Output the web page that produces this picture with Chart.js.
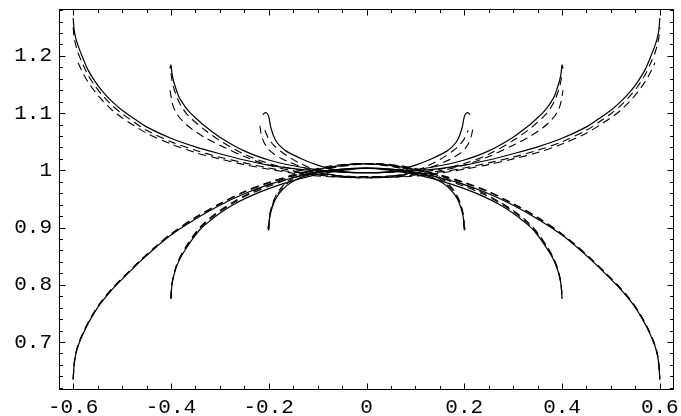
<!DOCTYPE html>
<html>
<head>
<meta charset="utf-8">
<script src="https://cdn.jsdelivr.net/npm/chart.js@4/dist/chart.umd.min.js"></script>
<style>
  body { margin: 0; background: #fff; }
  #wrap { width: 681px; height: 416px; }
</style>
</head>
<body>
<div id="wrap"><canvas id="curvesChart" width="681" height="416"></canvas></div>
<script>
// left halves (x <= 0), the right halves are mirrored

//! outer pair, ends at +-0.6
const xUpper6 = [-0.6, -0.598, -0.595, -0.59, -0.58, -0.57, -0.555, -0.54, -0.52, -0.5, -0.475, -0.45, -0.4, -0.35, -0.3, -0.25, -0.2, -0.15, -0.1, -0.05, 0];
const yUpper6 = [1.266, 1.245, 1.232, 1.218, 1.196, 1.176, 1.155, 1.138, 1.12, 1.105, 1.09, 1.076, 1.056, 1.041, 1.029, 1.018, 1.009, 1.003, 0.999, 0.997, 0.996];
const yUpper6DashA = [1.25, 1.232, 1.22, 1.205, 1.185, 1.167, 1.147, 1.131, 1.113, 1.099, 1.084, 1.07, 1.05, 1.035, 1.023, 1.013, 1.004, 0.997, 0.993, 0.99, 0.989];
const yUpper6DashB = [null, null, null, 1.188, 1.17, 1.155, 1.137, 1.122, 1.105, 1.092, 1.078, 1.065, 1.046, 1.031, 1.02, 1.01, 1.002, 0.995, 0.99, 0.988, 0.987];

const xLower6 = [-0.6, -0.598, -0.595, -0.59, -0.58, -0.565, -0.545, -0.52, -0.49, -0.46, -0.43, -0.4, -0.35, -0.3, -0.25, -0.2, -0.15, -0.1, -0.05, 0];
const yLower6 = [0.634, 0.66, 0.677, 0.693, 0.714, 0.739, 0.766, 0.792, 0.818, 0.843, 0.866, 0.887, 0.915, 0.939, 0.959, 0.975, 0.987, 0.996, 1.002, 1.004];
const yLower6DashA = [0.636, 0.662, 0.679, 0.695, 0.716, 0.741, 0.768, 0.794, 0.82, 0.845, 0.868, 0.889, 0.918, 0.942, 0.963, 0.979, 0.992, 1.001, 1.008, 1.011];
const yLower6DashB = [0.635, 0.661, 0.678, 0.694, 0.715, 0.74, 0.767, 0.793, 0.819, 0.844, 0.867, 0.888, 0.917, 0.941, 0.962, 0.978, 0.991, 1.002, 1.009, 1.012];

//! middle pair, ends at +-0.4
const xUpper4 = [-0.402, -0.4, -0.398, -0.395, -0.39, -0.385, -0.378, -0.37, -0.36, -0.35, -0.33, -0.3, -0.25, -0.2, -0.15, -0.1, -0.05, 0];
const yUpper4 = [1.178, 1.184, 1.17, 1.157, 1.143, 1.131, 1.12, 1.11, 1.1, 1.092, 1.077, 1.058, 1.034, 1.018, 1.008, 1.001, 0.997, 0.996];
const yUpper4DashA = [null, 1.17, 1.158, 1.146, 1.133, 1.122, 1.111, 1.101, 1.092, 1.084, 1.07, 1.052, 1.028, 1.012, 1.002, 0.995, 0.99, 0.989];
const yUpper4DashB = [1.14, 1.13, 1.12, 1.111, 1.102, 1.095, 1.088, 1.081, 1.074, 1.068, 1.057, 1.044, 1.024, 1.009, 0.999, 0.992, 0.988, 0.987];

const xLower4 = [-0.4, -0.399, -0.397, -0.393, -0.388, -0.38, -0.37, -0.355, -0.34, -0.32, -0.3, -0.27, -0.24, -0.2, -0.15, -0.1, -0.05, 0];
const yLower4 = [0.775, 0.79, 0.805, 0.82, 0.833, 0.848, 0.862, 0.881, 0.897, 0.912, 0.925, 0.941, 0.954, 0.968, 0.982, 0.993, 1.0, 1.004];
const yLower4DashA = [0.776, 0.791, 0.806, 0.821, 0.834, 0.85, 0.864, 0.883, 0.899, 0.915, 0.928, 0.944, 0.958, 0.972, 0.987, 0.998, 1.007, 1.011];
const yLower4DashB = [0.777, 0.792, 0.807, 0.822, 0.836, 0.851, 0.866, 0.885, 0.901, 0.917, 0.93, 0.946, 0.96, 0.975, 0.99, 1.001, 1.009, 1.012];

//! inner pair, ends at +-0.2
const xUpper2 = [-0.212, -0.207, -0.202, -0.199, -0.197, -0.194, -0.19, -0.184, -0.175, -0.165, -0.15, -0.13, -0.1, -0.07, -0.04, 0];
const yUpper2 = [1.097, 1.101, 1.098, 1.09, 1.08, 1.07, 1.06, 1.05, 1.041, 1.034, 1.027, 1.019, 1.009, 1.001, 0.997, 0.996];
const xUpper2Dash = [-0.218, -0.216, -0.213, -0.208, -0.2, -0.19, -0.175, -0.16, -0.14, -0.12, -0.1, -0.07, -0.04, 0];
const yUpper2DashA = [1.078, 1.066, 1.056, 1.046, 1.036, 1.029, 1.021, 1.015, 1.008, 1.002, 0.997, 0.992, 0.989, 0.988];
const yUpper2DashB = [null, null, null, 1.07, 1.055, 1.044, 1.033, 1.024, 1.014, 1.006, 0.999, 0.992, 0.988, 0.987];

const xLower2 = [-0.202, -0.2, -0.199, -0.197, -0.193, -0.187, -0.178, -0.165, -0.15, -0.13, -0.1, -0.07, -0.035, 0];
const yLower2 = [0.9, 0.896, 0.91, 0.922, 0.935, 0.948, 0.96, 0.972, 0.981, 0.989, 0.996, 1.0, 1.003, 1.004];
const yLower2DashA = [0.902, 0.898, 0.912, 0.925, 0.938, 0.951, 0.963, 0.975, 0.985, 0.993, 1.001, 1.006, 1.01, 1.011];
const yLower2DashB = [null, 0.9, 0.914, 0.927, 0.94, 0.953, 0.966, 0.978, 0.988, 0.996, 1.003, 1.008, 1.011, 1.012];

//! axis ticks
const xMajorTicks = [-0.6, -0.4, -0.2, 0, 0.2, 0.4, 0.6];
const yMajorTicks = [0.7, 0.8, 0.9, 1, 1.1, 1.2];

// left half + mirrored right half
function mirrored(xs, ys) {
  const pts = xs.map((x, i) => ({ x: x, y: ys[i] }));
  const right = [];
  for (let i = xs.length - 1; i >= 0; i--) {
    if (xs[i] === 0) continue;
    right.push({ x: -xs[i], y: ys[i] });
  }
  return pts.concat(right);
}

function curve(xs, ys, dashed) {
  return {
    data: mirrored(xs, ys),
    showLine: true,
    borderColor: "#000",
    borderWidth: dashed ? 1.1 : 1.2,
    borderDash: dashed ? [8, 5] : [],
    pointRadius: 0,
    tension: 0.3,
    spanGaps: false,
  };
}

const framePlugin = {
  id: "frame",
  afterDraw(chart) {
    const { ctx, chartArea } = chart;
    const xs = chart.scales.x;
    const ys = chart.scales.y;
    const l = Math.round(chartArea.left) + 0.5;
    const r = Math.round(chartArea.right) - 0.5;
    const t = Math.round(chartArea.top) + 0.5;
    const b = Math.round(chartArea.bottom) - 0.5;
    ctx.save();
    ctx.strokeStyle = "#000";
    ctx.lineWidth = 1;
    ctx.setLineDash([]);
    ctx.strokeRect(l, t, r - l, b - t);
    ctx.beginPath();
    // x ticks every 0.05, long at every 0.2
    for (let k = -12; k <= 12; k++) {
      const v = k * 0.05;
      const px = Math.round(xs.getPixelForValue(v)) + 0.5;
      const len = k % 4 === 0 ? 6 : 3.5;
      ctx.moveTo(px, b); ctx.lineTo(px, b - len);
      ctx.moveTo(px, t); ctx.lineTo(px, t + len);
    }
    // y ticks every 0.02, long at every 0.1
    for (let k = 31; k <= 64; k++) {
      const v = k * 0.02;
      const py = Math.round(ys.getPixelForValue(v)) + 0.5;
      const len = k % 5 === 0 ? 6 : 3.5;
      ctx.moveTo(l, py); ctx.lineTo(l + len, py);
      ctx.moveTo(r, py); ctx.lineTo(r - len, py);
    }
    ctx.stroke();
    ctx.restore();
  },
};

const tickFont = { family: "'Liberation Mono', 'Courier New', monospace", size: 21 };
const fmt = (v) => String(Number(v.toFixed(1)));

const ctx = document.getElementById("curvesChart").getContext("2d");
const curvesChart = new Chart(ctx, {
  type: "scatter",
  data: {
    datasets: [
      curve(xUpper6, yUpper6, false),
      curve(xUpper6, yUpper6DashA, true),
      curve(xUpper6, yUpper6DashB, true),
      curve(xLower6, yLower6, false),
      curve(xLower6, yLower6DashA, true),
      curve(xLower6, yLower6DashB, true),
      curve(xUpper4, yUpper4, false),
      curve(xUpper4, yUpper4DashA, true),
      curve(xUpper4, yUpper4DashB, true),
      curve(xLower4, yLower4, false),
      curve(xLower4, yLower4DashA, true),
      curve(xLower4, yLower4DashB, true),
      curve(xUpper2, yUpper2, false),
      curve(xUpper2Dash, yUpper2DashA, true),
      curve(xUpper2Dash, yUpper2DashB, true),
      curve(xLower2, yLower2, false),
      curve(xLower2, yLower2DashA, true),
      curve(xLower2, yLower2DashB, true),
    ],
  },
  options: {
    responsive: false,
    animation: false,
    layout: { padding: { top: 9, right: 7, left: 0, bottom: 0 } },
    scales: {
      x: {
        type: "linear",
        min: -0.629,
        max: 0.629,
        grid: { display: false, drawTicks: false },
        border: { display: false },
        afterFit(scale) {
          scale.height = 26;
          scale.paddingLeft = 0;
          scale.paddingRight = 0;
        },
        afterBuildTicks(scale) { scale.ticks = xMajorTicks.map((v) => ({ value: v })); },
        ticks: { color: "#000", font: tickFont, padding: 5, maxRotation: 0, callback: fmt },
      },
      y: {
        type: "linear",
        min: 0.616,
        max: 1.282,
        grid: { display: false, drawTicks: false },
        border: { display: false },
        afterFit(scale) {
          scale.width = 59;
          scale.paddingTop = 0;
          scale.paddingBottom = 0;
        },
        afterBuildTicks(scale) { scale.ticks = yMajorTicks.map((v) => ({ value: v })); },
        ticks: { color: "#000", font: tickFont, padding: 7, callback: fmt },
      },
    },
    plugins: { legend: { display: false }, tooltip: { enabled: false } },
  },
  plugins: [framePlugin],
});
</script>
</body>
</html>
